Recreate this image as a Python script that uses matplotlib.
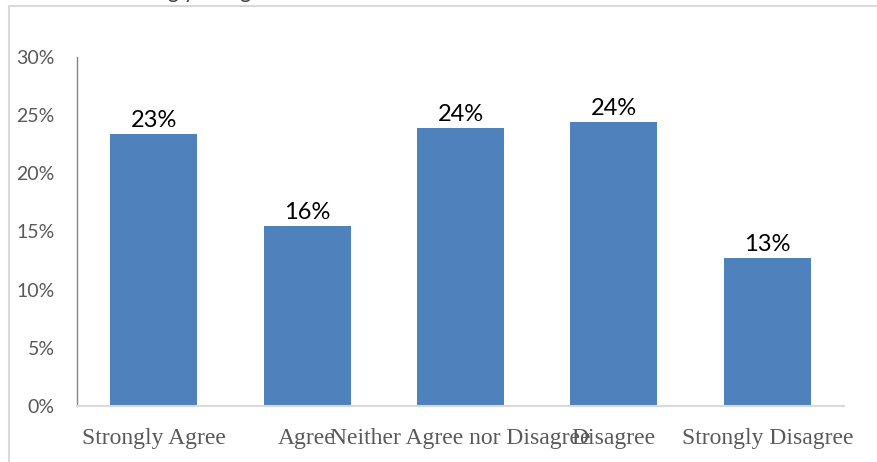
import matplotlib.pyplot as plt
from matplotlib.lines import Line2D

categories = ['Strongly Agree', 'Agree', 'Neither Agree nor Disagree', 'Disagree', 'Strongly Disagree']
shares = [0.234, 0.155, 0.239, 0.244, 0.1275]
labels = ['23%', '16%', '24%', '24%', '13%']
yticks = [0, 0.05, 0.10, 0.15, 0.20, 0.25, 0.30]
ytick_labels = ['0%', '5%', '10%', '15%', '20%', '25%', '30%']

W, H = 878, 462
fig = plt.figure(figsize=(W / 100, H / 100), dpi=100)
fig.patch.set_facecolor('white')

# axes box in pixels: left 77, right 844, top 57, bottom 406
ax = fig.add_axes([77 / W, (H - 406) / H, (844 - 77) / W, (406 - 57) / H])

x = range(len(categories))
ax.bar(x, shares, width=0.567, color='#4f81bd', zorder=2)

for xi, v, lab in zip(x, shares, labels):
    ax.annotate(lab, (xi, v), xytext=(0, 5), textcoords='offset points',
                ha='center', va='baseline', fontsize=17, family='Lato', color='black')

ax.set_xlim(-0.5, len(categories) - 0.5)
ax.set_ylim(0, 0.30)
ax.set_yticks(yticks)
ax.set_yticklabels(ytick_labels, family='Lato', fontsize=14, color='#595959')
ax.set_xticks(list(x))
ax.set_xticklabels(categories, family='Liberation Serif', fontsize=17, color='#595959')
ax.tick_params(axis='y', length=0, pad=16)
ax.tick_params(axis='x', length=0, pad=16)

for s in ['top', 'right']:
    ax.spines[s].set_visible(False)
ax.spines['left'].set_color('#868686')
ax.spines['left'].set_linewidth(1.0)
ax.spines['bottom'].set_color('#d9d9d9')
ax.spines['bottom'].set_linewidth(1.5)

# outer chart frame (left and top edges visible)
fig.add_artist(Line2D([8.5 / W, 8.5 / W], [0, 1 - 6 / H], transform=fig.transFigure,
                      color='#d9d9d9', lw=1.5))
fig.add_artist(Line2D([8.5 / W, 1], [1 - 6 / H, 1 - 6 / H], transform=fig.transFigure,
                      color='#d9d9d9', lw=1.5))

# title text mostly cut off at the top edge
fig.text(118 / W, 1 + 2.5 / H, 'Strongly Disagree', family='Lato', fontsize=15,
         color='#404040', ha='left', va='baseline')

fig.savefig('out.png', dpi=100)
